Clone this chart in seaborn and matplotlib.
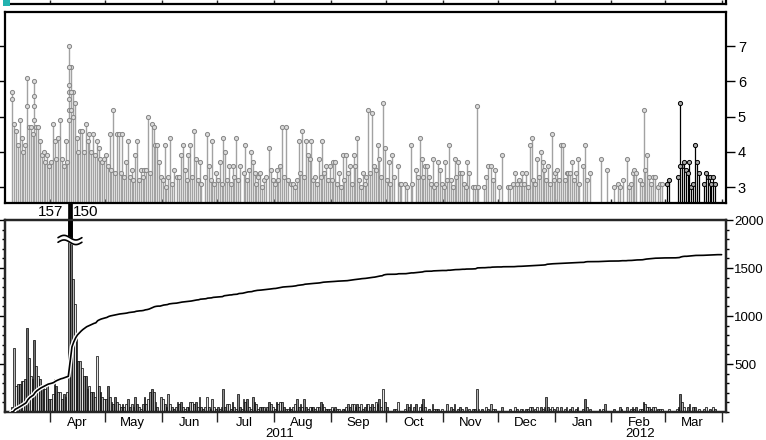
import numpy as np
import pandas as pd
import matplotlib
matplotlib.use("Agg")
import matplotlib.pyplot as plt
import matplotlib.dates as mdates
import matplotlib.transforms as mtransforms
import matplotlib.patheffects as pe
from matplotlib.patches import Rectangle
from matplotlib.ticker import FixedLocator, FixedFormatter, NullFormatter, MultipleLocator
import seaborn as sns

# ---------------- data ----------------
START = "2011-03-11"
month_labels = ["Apr", "May", "Jun", "Jul", "Aug", "Sep", "Oct", "Nov", "Dec", "Jan", "Feb", "Mar"]
year_labels = ["2011", "2012"]
mag_ticks = [3, 4, 5, 6, 7]
cum_ticks = [500, 1000, 1500, 2000]

# daily maximum magnitude (0 = no event shown)
mag_2011_03 = [5.7, 4.8, 4.6, 4.2, 4.9, 4.4, 4.0, 4.2, 6.1, 4.7, 4.7, 4.5, 6.0, 4.7, 4.7, 4.3, 3.9, 4.0, 3.7, 3.9, 3.6]
mag_2011_04 = [3.7, 4.8, 4.3, 3.8, 4.4, 4.9, 3.8, 3.6, 4.3, 3.7, 7.0, 6.4, 5.7, 5.4, 4.4, 4.0, 4.6, 4.6, 4.0, 4.8,
               4.3, 4.5, 4.0, 4.5, 3.9, 4.3, 4.1, 3.8, 3.7, 3.8]
mag_2011_05 = [3.9, 3.6, 4.5, 3.5, 5.2, 3.4, 4.5, 4.5, 3.4, 4.5, 3.3, 3.7, 4.3, 3.3, 3.5, 3.2, 3.9, 4.3, 3.2, 3.5,
               3.3, 3.5, 3.5, 5.0, 3.4, 4.8, 4.7, 4.2, 4.2, 3.7, 3.3]
mag_2011_06 = [3.2, 4.2, 3.0, 3.3, 4.4, 3.1, 3.5, 0, 3.3, 3.3, 3.9, 4.2, 3.5, 3.2, 3.9, 4.2, 3.3, 4.6, 3.8, 3.2,
               3.7, 3.1, 0, 3.3, 4.5, 3.6, 3.2, 4.3, 3.1, 3.4]
mag_2011_07 = [3.2, 3.7, 3.1, 4.4, 4.0, 3.2, 3.6, 3.1, 3.6, 3.3, 4.4, 3.2, 3.6, 0, 3.4, 4.2, 3.2, 3.5, 4.0, 3.7,
               3.4, 3.1, 3.3, 3.4, 3.0, 3.2, 3.3, 0, 4.1, 3.5, 3.2]
mag_2011_08 = [3.1, 3.5, 3.2, 3.6, 4.7, 3.3, 4.7, 3.2, 0, 3.1, 3.1, 3.0, 3.2, 4.3, 3.4, 4.6, 3.3, 4.3, 3.9, 3.8,
               4.3, 3.2, 3.3, 3.1, 3.8, 3.3, 4.3, 3.4, 3.6, 3.2, 3.6]
mag_2011_09 = [3.2, 3.7, 3.7, 3.1, 3.4, 3.0, 3.9, 3.2, 3.9, 3.4, 3.6, 3.1, 3.9, 3.6, 4.4, 3.2, 3.0, 3.4, 3.1, 3.3,
               5.2, 3.4, 5.1, 3.6, 3.5, 4.2, 3.8, 3.3, 5.4, 4.1]
mag_2011_10 = [3.2, 3.7, 3.1, 3.9, 3.3, 0, 3.6, 3.1, 3.1, 0, 3.1, 3.0, 0, 4.2, 3.1, 0, 3.5, 3.3, 4.4, 3.8,
               3.3, 3.6, 3.6, 3.3, 3.1, 3.8, 3.0, 3.1, 3.7, 3.5, 3.1]
mag_2011_11 = [3.0, 3.7, 3.2, 4.2, 3.2, 3.0, 3.8, 3.3, 3.7, 3.4, 3.4, 3.1, 3.0, 3.7, 3.4, 0, 3.0, 3.0, 5.3, 3.0,
               0, 0, 3.0, 3.3, 3.6, 0, 3.6, 3.2, 3.5, 0]
mag_2011_12 = [3.0, 0, 3.9, 0, 0, 3.0, 3.0, 0, 3.1, 3.4, 3.1, 3.2, 3.1, 3.4, 3.1, 3.4, 3.0, 4.2, 4.4, 3.2,
               3.1, 3.8, 3.3, 4.0, 3.7, 3.5, 3.2, 3.6, 3.1, 4.5, 3.2]
mag_2012_01 = [3.4, 3.5, 3.2, 4.2, 4.2, 3.2, 3.4, 3.4, 3.4, 3.7, 3.2, 3.4, 3.8, 3.1, 0, 3.6, 4.2, 3.2, 0, 3.4,
               0, 0, 0, 0, 0, 3.8, 0, 0, 3.5, 0, 0]
mag_2012_02 = [0, 3.0, 0, 3.1, 3.0, 0, 3.2, 0, 3.8, 3.0, 3.1, 3.4, 3.5, 3.4, 0, 3.2, 3.1, 5.2, 3.5, 3.9,
               3.3, 3.1, 3.3, 3.3, 0, 3.0, 3.1, 3.1, 0]
mag_2012_03 = [0, 3.1, 3.2, 0, 0, 0, 0, 3.3, 5.4, 3.6, 3.7, 3.5, 3.4, 3.7, 3.0, 3.1, 4.2, 3.7, 3.4, 0,
               0, 3.1, 3.4, 3.3, 3.3, 3.1, 3.3, 3.1, 0, 0, 0]

# additional events drawn as circles on the stems (day offset from START, magnitude)
extra_offset = [0, 8, 12, 12, 12, 31, 31, 31, 31, 31, 31, 32, 32, 33, 364]
extra_mag = [5.5, 5.3, 5.6, 5.3, 4.9, 6.4, 5.9, 5.7, 5.5, 5.2, 4.9, 5.7, 5.2, 5.0, 3.6]

# daily number of events
cnt_2011_03 = [2, 25, 10, 11, 11, 12, 12, 13, 33, 21, 14, 13, 28, 18, 14, 13, 10, 10, 9, 11, 5]
cnt_2011_04 = [5, 7, 13, 10, 8, 8, 5, 7, 6, 8, 157, 150, 52, 42, 30, 20, 20, 17, 14, 14,
               9, 10, 8, 8, 6, 22, 10, 8, 6, 5]
cnt_2011_05 = [5, 10, 6, 4, 3, 6, 4, 3, 2, 3, 2, 3, 5, 2, 3, 2, 6, 3, 2, 1, 3, 6, 3, 5, 8, 9, 8, 4, 2, 0, 6]
cnt_2011_06 = [5, 3, 2, 7, 3, 2, 1, 2, 4, 3, 4, 2, 1, 2, 2, 4, 4, 3, 4, 2, 6, 2, 1, 2, 6, 2, 1, 5, 2, 1]
cnt_2011_07 = [2, 1, 2, 9, 2, 3, 3, 1, 4, 2, 1, 7, 2, 1, 5, 4, 5, 2, 1, 6, 4, 3, 1, 2, 2, 2, 1, 2, 4, 3, 2]
cnt_2011_08 = [1, 4, 3, 4, 4, 2, 1, 1, 2, 1, 2, 3, 5, 2, 3, 2, 5, 2, 1, 2, 2, 2, 1, 2, 2, 4, 3, 2, 1, 1, 1]
cnt_2011_09 = [2, 1, 2, 1, 1, 0, 1, 1, 2, 3, 2, 3, 3, 2, 3, 2, 3, 1, 2, 3, 3, 2, 3, 2, 4, 3, 5, 2, 9, 4]
cnt_2011_10 = [2, 0, 0, 0, 1, 1, 4, 0, 0, 0, 1, 3, 2, 3, 0, 2, 3, 0, 2, 3, 5, 2, 0, 1, 0, 3, 1, 1, 1, 0, 1]
cnt_2011_11 = [0, 0, 3, 0, 2, 1, 3, 0, 1, 2, 1, 0, 2, 0, 1, 0, 1, 1, 9, 1, 0, 1, 0, 2, 1, 0, 3, 1, 1, 0]
cnt_2011_12 = [0, 0, 2, 0, 0, 0, 1, 0, 0, 2, 1, 0, 1, 1, 0, 1, 1, 2, 2, 0, 1, 2, 0, 2, 1, 2, 6, 2, 1, 2, 1]
cnt_2012_01 = [0, 2, 0, 2, 0, 1, 2, 0, 1, 2, 0, 1, 2, 0, 0, 1, 5, 2, 0, 1, 0, 0, 0, 0, 1, 0, 1, 3, 0, 0, 0]
cnt_2012_02 = [0, 1, 0, 0, 2, 1, 0, 0, 2, 0, 1, 2, 1, 2, 0, 1, 1, 4, 3, 2, 2, 1, 2, 2, 0, 1, 1, 1, 0]
cnt_2012_03 = [0, 0, 1, 0, 0, 0, 1, 2, 7, 4, 2, 0, 2, 3, 0, 2, 2, 0, 1, 0, 0, 1, 2, 0, 1, 0, 2, 1, 0, 0, 0]

mags = np.array(mag_2011_03 + mag_2011_04 + mag_2011_05 + mag_2011_06 + mag_2011_07 + mag_2011_08 +
                mag_2011_09 + mag_2011_10 + mag_2011_11 + mag_2011_12 + mag_2012_01 + mag_2012_02 +
                mag_2012_03, dtype=float)
cnts = np.array(cnt_2011_03 + cnt_2011_04 + cnt_2011_05 + cnt_2011_06 + cnt_2011_07 + cnt_2011_08 +
                cnt_2011_09 + cnt_2011_10 + cnt_2011_11 + cnt_2011_12 + cnt_2012_01 + cnt_2012_02 +
                cnt_2012_03, dtype=float)

# ---------------- style ----------------
sns.set_theme(style="white")
plt.rcParams["font.family"] = ["Liberation Sans", "DejaVu Sans"]
plt.rcParams["axes.linewidth"] = 1.6

W, H = 766, 440
fig = plt.figure(figsize=(W / 100, H / 100), dpi=100)


def frame(x0, y0, x1, y1):
    return [x0 / W, 1 - y1 / H, (x1 - x0) / W, (y1 - y0) / H]


def dn(t):
    return float(mdates.date2num(pd.Timestamp(t)))


ax_top = fig.add_axes(frame(5, 12, 726, 203))
ax_bar = fig.add_axes(frame(5, 220, 726, 412))
ax_strip = fig.add_axes([5 / W, 1 - 4 / H, 721 / W, 0.3])

days = pd.date_range(START, periods=len(cnts), freq="D")
dnum = np.array([dn(d) for d in days])
one_day = 1.0
xlim = (dn("2011-03-07 12:00"), dn("2012-04-03 10:00"))
md = [dn(d) for d in pd.date_range("2011-04-01", "2012-04-01", freq="MS")]
mm = [dn(d) + 15 for d in pd.date_range("2011-04-01", periods=12, freq="MS")]

# ---------------- top: magnitudes ----------------
MLO, MHI = 2.55, 7.97
has = mags > 0
recent = dnum >= dn("2012-03-01")
old_sel = has & ~recent
new_sel = has & recent
ax_top.vlines(dnum[old_sel] + 0.5, MLO, mags[old_sel], color="#a2a2a2", lw=1.0, zorder=2)
ax_top.vlines(dnum[new_sel] + 0.5, MLO, mags[new_sel], color="black", lw=0.9, zorder=3)
ex_x = dn(START) + np.array(extra_offset, dtype=float) + 0.5
ex_y = np.array(extra_mag, dtype=float)
ex_recent = ex_x >= dn("2012-03-01")
sns.scatterplot(x=np.concatenate([dnum[old_sel] + 0.5, ex_x[~ex_recent]]),
                y=np.concatenate([mags[old_sel], ex_y[~ex_recent]]),
                ax=ax_top, marker="o", s=9, color="#dadada", edgecolor="#868686",
                linewidth=0.7, zorder=4)
sns.scatterplot(x=np.concatenate([dnum[new_sel] + 0.5, ex_x[ex_recent]]),
                y=np.concatenate([mags[new_sel], ex_y[ex_recent]]),
                ax=ax_top, marker="o", s=9, color="#a8a8a8", edgecolor="black",
                linewidth=0.7, zorder=5)
ax_top.set_ylim(MLO, MHI)
ax_top.set_xlim(*xlim)
ax_top.yaxis.set_major_locator(FixedLocator(mag_ticks))
ax_top.tick_params(axis="y", which="major", left=True, right=True, labelleft=False, labelright=True,
                   direction="out", length=6.5, width=1, pad=2, labelsize=10.5, colors="black")
ax_top.xaxis.set_major_locator(FixedLocator(md))
ax_top.tick_params(axis="x", which="major", bottom=True, direction="in", length=3, width=1,
                   labelbottom=False)
ax_top.set_xlabel("")
ax_top.set_ylabel("")

# ---------------- bottom: daily counts ----------------
CMAX = 75.0
BREAK_Y = 0.896
visible = np.minimum(cnts, CMAX)
shades = ["#6f6f6f", "#b5b5b5", "#e4e4e4", "#8e8e8e"]
bar_colors = [shades[i % len(shades)] for i in range(len(cnts))]
ax_bar.bar(dnum, visible, width=1.0, align="edge", color=bar_colors, edgecolor="black",
           linewidth=0.5, zorder=2)
over = cnts > CMAX
ext_top = CMAX * (1 + 17 / 192)
ax_bar.bar(dnum[over], ext_top - CMAX * BREAK_Y, bottom=CMAX * BREAK_Y, width=1.0, align="edge",
           color="black", edgecolor="black", linewidth=0.5, clip_on=False, zorder=3)
ax_bar.set_ylim(0, CMAX)
ax_bar.yaxis.set_major_locator(FixedLocator([CMAX * k / 4 for k in range(1, 5)]))
ax_bar.yaxis.set_minor_locator(FixedLocator([CMAX * k / 20 for k in range(1, 21)]))
ax_bar.tick_params(axis="y", which="both", left=True, right=False, labelleft=False,
                   direction="out", width=1, colors="black")
ax_bar.tick_params(axis="y", which="major", length=5)
ax_bar.tick_params(axis="y", which="minor", length=2.5)

ax_bar.xaxis.set_major_locator(FixedLocator(md))
ax_bar.xaxis.set_major_formatter(NullFormatter())
ax_bar.xaxis.set_minor_locator(FixedLocator(mm))
ax_bar.xaxis.set_minor_formatter(FixedFormatter(month_labels))
ax_bar.tick_params(axis="x", which="major", bottom=True, direction="out", length=7, width=1,
                   labelbottom=False)
ax_bar.tick_params(axis="x", which="minor", bottom=True, length=0, pad=3.5, labelsize=9.5,
                   labelbottom=True, colors="black")
ax_bar.set_xlim(*xlim)
ax_bar.set_xlabel("")

# cumulative number
ax_cum = ax_bar.twinx()
cum_x = np.concatenate([[dnum[0]], dnum + one_day])
cum_y = np.concatenate([[0.0], np.cumsum(cnts)])
sns.lineplot(x=cum_x, y=cum_y, ax=ax_cum, color="black", linewidth=1.2, zorder=5,
             path_effects=[pe.Stroke(linewidth=3.2, foreground="white"), pe.Normal()])
ax_cum.set_ylim(0, 2000)
ax_cum.yaxis.set_major_locator(FixedLocator(cum_ticks))
ax_cum.yaxis.set_minor_locator(MultipleLocator(100))
ax_cum.tick_params(axis="y", which="both", right=True, left=False, labelright=True, labelleft=False,
                   direction="out", width=1, colors="black")
ax_cum.tick_params(axis="y", which="major", length=5, pad=1, labelsize=9.5)
ax_cum.tick_params(axis="y", which="minor", length=2.5)
ax_cum.set_ylabel("")
ax_cum.set_xlim(*xlim)
for s in ax_cum.spines.values():
    s.set_linewidth(1.6)

# axis-break symbol on the clipped bars
br_trans = mtransforms.blended_transform_factory(ax_cum.transData, ax_cum.transAxes)
over_x = dnum[over]
b0 = over_x[0] - 5.6
b1 = over_x[-1] + 6.4
t = np.linspace(0, 1, 60)
bx = b0 + t * (b1 - b0)
wave = 0.012 * np.sin(2 * np.pi * t)
ax_cum.fill_between(bx, BREAK_Y + 0.012 + wave, BREAK_Y - 0.012 + wave, color="white",
                    transform=br_trans, zorder=6, clip_on=False)
ax_cum.plot(bx, BREAK_Y + 0.012 + wave, color="black", lw=1.2, transform=br_trans, zorder=7,
            clip_on=False)
ax_cum.plot(bx, BREAK_Y - 0.012 + wave, color="black", lw=1.2, transform=br_trans, zorder=7,
            clip_on=False)

# labels of clipped bars
lab_y = (412 - 212) / 192
ax_cum.annotate(str(int(cnts[over][0])), xy=(over_x[0], lab_y), xycoords=br_trans,
                xytext=(-3.5, 0), textcoords="offset points", ha="right", va="center",
                fontsize=11, color="black", annotation_clip=False)
ax_cum.annotate(str(int(cnts[over][1])), xy=(over_x[-1] + one_day, lab_y), xycoords=br_trans,
                xytext=(0.5, 0), textcoords="offset points", ha="left", va="center",
                fontsize=11, color="black", annotation_clip=False)

# year labels centred on each year's visible span
yb = dn("2012-01-01")
yr_trans = mtransforms.blended_transform_factory(ax_bar.transData, ax_bar.transAxes)
ax_bar.text((xlim[0] + yb) / 2, -0.085, year_labels[0], transform=yr_trans, ha="center", va="top",
            fontsize=9.5, color="black")
ax_bar.text((yb + xlim[1]) / 2, -0.085, year_labels[1], transform=yr_trans, ha="center", va="top",
            fontsize=9.5, color="black")

# thin strip of the panel above
ax_strip.set_ylim(0, 1)
ax_strip.set_yticks([])
ax_strip.set_xlim(*xlim)
ax_strip.xaxis.set_major_locator(FixedLocator(md))
ax_strip.tick_params(axis="x", which="major", bottom=True, direction="in", length=3, width=1,
                     labelbottom=False)
ax_strip.spines["top"].set_visible(False)
for s in ["left", "right", "bottom"]:
    ax_strip.spines[s].set_linewidth(1.6)
    ax_strip.spines[s].set_color("black")
fig.patches.append(Rectangle((3 / W, 1 - 6 / H), 7 / W, 6 / H, transform=fig.transFigure,
                             facecolor="#22b3b0", edgecolor="none", zorder=20))

for ax in (ax_top, ax_bar):
    for s in ax.spines.values():
        s.set_linewidth(1.6)
        s.set_color("black")

fig.savefig("out.png", dpi=100)
